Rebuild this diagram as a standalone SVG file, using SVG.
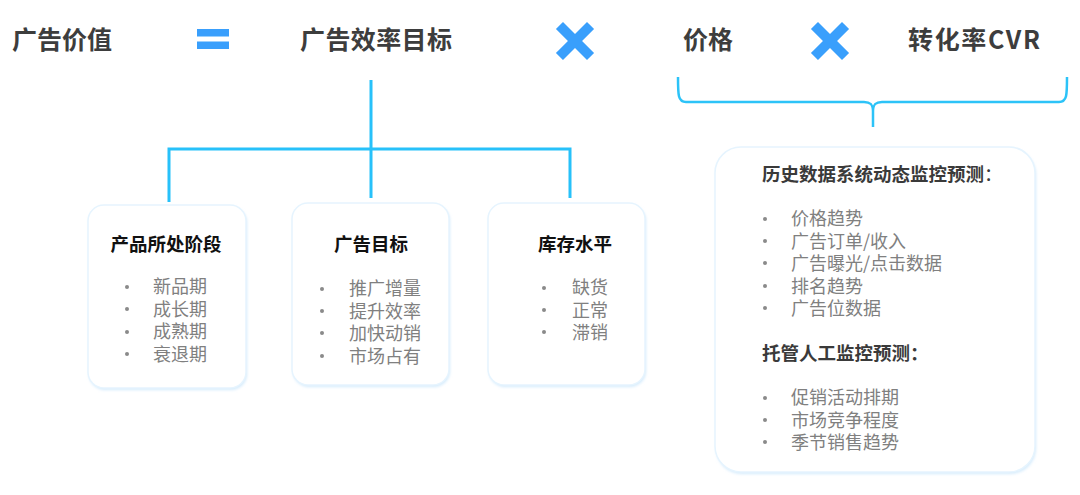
<svg xmlns="http://www.w3.org/2000/svg" width="1080" height="495" viewBox="0 0 1080 495">
<style>
text{font-family:"Noto Sans CJK SC","Liberation Sans",sans-serif}
.h{font-size:25px;font-weight:bold;fill:#3d3d3d}
.bt{font-size:18.5px;font-weight:bold;fill:#111111;text-anchor:middle}
.bt4{font-size:18.5px;font-weight:bold;fill:#3a3a3a}
.it{font-size:18px;fill:#808080}
.bu{fill:#8a8a8a}
.box{fill:#ffffff;stroke:#e6f4fe;stroke-width:1.5}
.sh{fill:#d4ebfc}
.ln{fill:none;stroke:#27c1fa;stroke-width:3}
.br{fill:none;stroke:#2cc3f8;stroke-width:2.5}
.op{fill:#399ffc}
</style>
<defs>
<filter id="blur" x="-10%" y="-10%" width="120%" height="120%"><feGaussianBlur stdDeviation="1.5"/></filter>
</defs>

<g id="formula">
<text class="h" x="12" y="49">广告价值</text>
<g id="equals"><rect class="op" x="197" y="29" width="32" height="7.5"/><rect class="op" x="197" y="41.5" width="32" height="7.5"/></g>
<text class="h" x="300" y="49" textLength="152" lengthAdjust="spacing">广告效率目标</text>
<g id="times1" transform="translate(575,41) rotate(45)"><rect class="op" x="-22" y="-5" width="44" height="10"/><rect class="op" x="-5" y="-22" width="10" height="44"/></g>
<text class="h" x="683" y="49">价格</text>
<g id="times2" transform="translate(830,41) rotate(45)"><rect class="op" x="-22" y="-5" width="44" height="10"/><rect class="op" x="-5" y="-22" width="10" height="44"/></g>
<text class="h" x="908" y="49" textLength="132" lengthAdjust="spacing">转化率CVR</text>
</g>

<g id="connectors">
<path class="ln" d="M371,80 V198 M169,202 V149 H570 V198"/>
<path class="br" d="M678,77 C678,95 678,102 686,102 L864,102 C870,102 873,104 873,111 L873,127 M873,111 C873,104 876,102 882,102 L1059,102 C1067,102 1067,95 1067,77"/>
</g>

<g id="node-stage">
<rect class="sh" x="89" y="207" width="158" height="183" rx="16" filter="url(#blur)"/>
<rect class="box" x="88" y="205" width="158" height="183" rx="16"/>
<text class="bt" x="166" y="251">产品所处阶段</text>
<g class="bu"><circle cx="127" cy="287" r="2"/><circle cx="127" cy="309" r="2"/><circle cx="127" cy="332" r="2"/><circle cx="127" cy="354" r="2"/></g>
<text class="it" x="153" y="293"><tspan x="153">新品期</tspan><tspan x="153" dy="22.5">成长期</tspan><tspan x="153" dy="22.5">成熟期</tspan><tspan x="153" dy="22.5">衰退期</tspan></text>
</g>

<g id="node-goal">
<rect class="sh" x="293" y="205" width="157" height="182" rx="16" filter="url(#blur)"/>
<rect class="box" x="292" y="203" width="157" height="182" rx="16"/>
<text class="bt" x="371" y="251">广告目标</text>
<g class="bu"><circle cx="322" cy="289" r="2"/><circle cx="322" cy="311" r="2"/><circle cx="322" cy="333" r="2"/><circle cx="322" cy="356" r="2"/></g>
<text class="it" x="349" y="295"><tspan x="349">推广增量</tspan><tspan x="349" dy="22.5">提升效率</tspan><tspan x="349" dy="22.5">加快动销</tspan><tspan x="349" dy="22.5">市场占有</tspan></text>
</g>

<g id="node-stock">
<rect class="sh" x="489" y="205" width="157" height="182" rx="16" filter="url(#blur)"/>
<rect class="box" x="488" y="203" width="157" height="182" rx="16"/>
<text class="bt" x="575" y="251">库存水平</text>
<g class="bu"><circle cx="544" cy="288" r="2"/><circle cx="544" cy="310" r="2"/><circle cx="544" cy="332" r="2"/></g>
<text class="it" x="572" y="294"><tspan x="572">缺货</tspan><tspan x="572" dy="22.5">正常</tspan><tspan x="572" dy="22.5">滞销</tspan></text>
</g>

<g id="node-monitor">
<rect class="sh" x="716" y="149" width="320" height="325" rx="26" filter="url(#blur)"/>
<rect class="box" x="715" y="147" width="320" height="325" rx="26"/>
<text class="bt4" x="762" y="181">历史数据系统动态监控预测<tspan font-weight="normal">：</tspan></text>
<g class="bu"><circle cx="765" cy="219" r="2"/><circle cx="765" cy="241" r="2"/><circle cx="765" cy="263" r="2"/><circle cx="765" cy="286" r="2"/><circle cx="765" cy="308" r="2"/></g>
<text class="it" x="791" y="225"><tspan x="791">价格趋势</tspan><tspan x="791" dy="22.5">广告订单/收入</tspan><tspan x="791" dy="22.5">广告曝光/点击数据</tspan><tspan x="791" dy="22.5">排名趋势</tspan><tspan x="791" dy="22.5">广告位数据</tspan></text>
<text class="bt4" x="762" y="360">托管人工监控预测：</text>
<g class="bu"><circle cx="765" cy="398" r="2"/><circle cx="765" cy="420" r="2"/><circle cx="765" cy="442" r="2"/></g>
<text class="it" x="791" y="404"><tspan x="791">促销活动排期</tspan><tspan x="791" dy="22.5">市场竞争程度</tspan><tspan x="791" dy="22.5">季节销售趋势</tspan></text>
</g>
</svg>
